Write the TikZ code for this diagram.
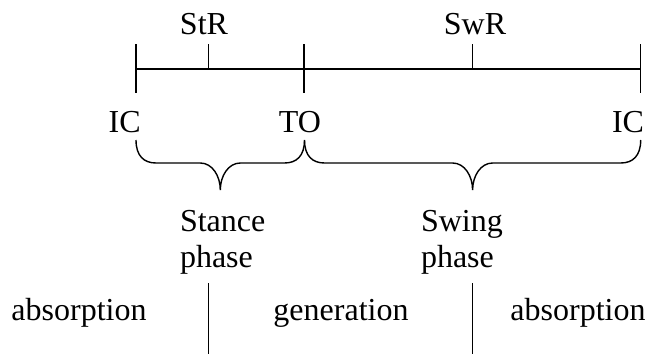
\documentclass[tikz,border=0pt]{standalone}
\usepackage{fontspec}
\setmainfont{Liberation Serif}
\usetikzlibrary{calc}
\tikzset{
	every node/.style={font=\fontsize{32}{36}\selectfont,inner sep=0pt,outer sep=0pt},
	axis/.style={line width=1.5pt},
	bracket/.style={line width=1.4pt},
	event/.style={anchor=base},
	phase/.style={align=left,anchor=base west}
	}
% curly bracket from #1 to #2 with its tip at #3
\newcommand{\phasebrace}[3]{%
	\draw[bracket] (#1) .. controls +(0,16) and +(-12,0) .. ($(#1)+(20,23)$)
		-- ($(#3)+(-20,-27)$) .. controls +(12,0) and +(0,-14) .. (#3)
		.. controls +(0,-14) and +(-12,0) .. ($(#3)+(20,-27)$)
		-- ($(#2)+(-20,23)$) .. controls +(12,0) and +(0,16) .. (#2);}

\begin{document}
\begin{tikzpicture}[x=1pt,y=-1pt]
	\useasboundingbox (0,0) rectangle (652,354);
	% gait cycle axis
	\coordinate (ic0) at (136,69);
	\coordinate (str) at (208.7,69);
	\coordinate (to) at (304,69);
	\coordinate (swr) at (472.3,69);
	\coordinate (ic1) at (640.7,69);
	\draw[axis] (ic0) -- (ic1);
	\foreach \p in {ic0,to,ic1} \draw[axis] (\p) ++(0,-25) -- ++(0,48.5);
	\foreach \p in {str,swr} \draw[axis] (\p) ++(0,-25) -- (\p);
	\node[event] (strlabel) at (204,34) {StR};
	\node[event] (swrlabel) at (475,34) {SwR};
	\node[event] (iclabel0) at (124.6,132) {IC};
	\node[event] (tolabel) at (300,132) {TO};
	\node[event] (iclabel1) at (628,132) {IC};
	% phases
	\coordinate (b0) at (136,140);
	\coordinate (b1) at (304.5,140);
	\coordinate (b2) at (640.7,140);
	\coordinate (t0) at (220.3,190);
	\coordinate (t1) at (472.6,190);
	\phasebrace{b0}{b1}{t0}
	\phasebrace{b1}{b2}{t1}
	\node[phase] (stance) at (180,267) {Stance\\phase};
	\node[phase] (swing) at (421,267) {Swing\\phase};
	% power
	\coordinate (p0) at (208.7,283);
	\coordinate (p1) at (472.3,283);
	\foreach \p in {p0,p1} \draw[axis] (\p) -- ++(0,71);
	\node[event] (abs0) at (79,320) {absorption};
	\node[event] (gen) at (341,320) {generation};
	\node[event] (abs1) at (578,320) {absorption};
\end{tikzpicture}
\end{document}
